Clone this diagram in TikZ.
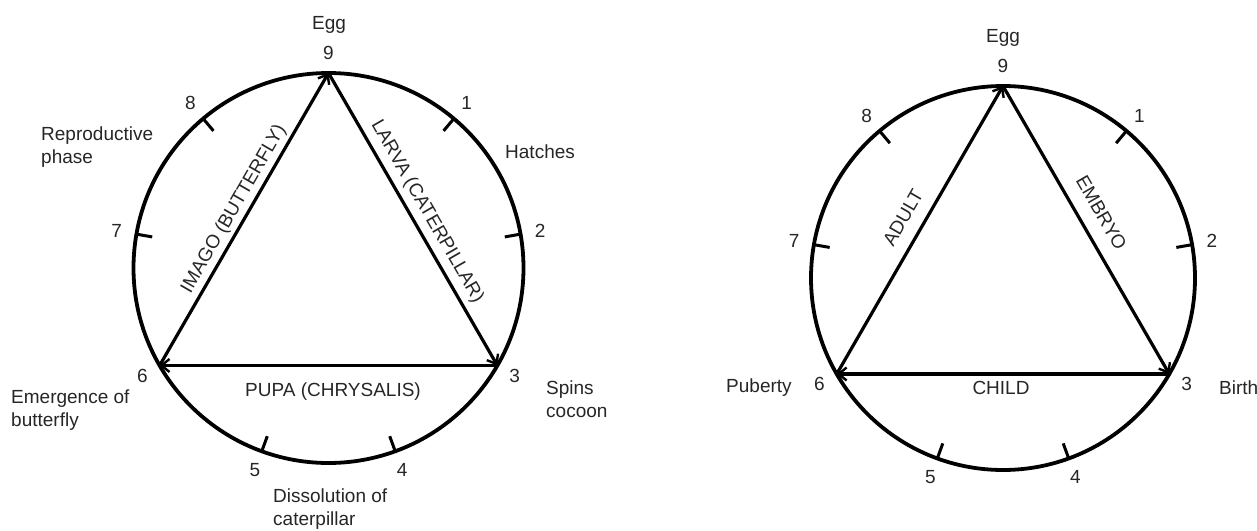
\documentclass[tikz,border=0pt]{standalone}
\usepackage{fontspec}
\setmainfont{Liberation Sans}
\usetikzlibrary{arrows.meta}
\begin{document}
\begin{tikzpicture}[x=1pt,y=1pt,
  ring/.style={line width=3.8pt},
  edge/.style={line width=3.2pt, -{Straight Barb[length=8pt,width=13pt,line width=2.4pt]}},
  tickmark/.style={line width=3pt},
  lab/.style={inner sep=0pt, font=\fontsize{19}{23}\selectfont, text=black!85},
  txt/.style={lab, anchor=west, align=left},
]
\useasboundingbox (0,0) rectangle (1257,-530);

% ---------- left cycle ----------
\coordinate (L) at (328.5,-268);
\draw[ring] (L) circle[radius=195];
\coordinate (L9) at ([shift={(90:195)}]L);
\coordinate (L3) at ([shift={(-30:195)}]L);
\coordinate (L6) at ([shift={(-150:195)}]L);
\draw[edge] (L9) -- (L3);
\draw[edge] (L3) -- (L6);
\draw[edge] (L6) -- (L9);
\foreach \a in {50,10,-70,-110,170,130}
  \draw[tickmark] ([shift={(\a:195)}]L) -- ([shift={(\a:179)}]L);
\foreach \a/\n in {90/9,50/1,10/2,-30/3,-70/4,-110/5,-150/6,170/7,130/8}
  \node[lab] (Ln\n) at ([shift={(\a:215)}]L) {\n};

\node[lab] (Legg) at (329,-25) {Egg};
\node[txt] (Lhat) at (505,-152) {Hatches};
\node[txt] (Lrep) at (41,-147) {Reproductive\\phase};
\node[txt] (Lspi) at (546,-399) {Spins\\cocoon};
\node[txt] (Leme) at (11,-410) {Emergence of\\butterfly};
\node[txt] (Ldis) at (273,-509) {Dissolution of\\caterpillar};

\node[lab, rotate=60] (Limago) at (234,-209) {IMAGO (BUTTERFLY)};
\node[lab, rotate=-60] (Llarva) at (427,-212) {LARVA (CATERPILLAR)};
\node[lab] (Lpupa) at (333,-392) {PUPA (CHRYSALIS)};

% ---------- right cycle ----------
\coordinate (R) at (1003,-278);
\draw[ring] (R) circle[radius=192];
\coordinate (R9) at ([shift={(90:192)}]R);
\coordinate (R3) at ([shift={(-30:192)}]R);
\coordinate (R6) at ([shift={(-150:192)}]R);
\draw[edge] (R9) -- (R3);
\draw[edge] (R3) -- (R6);
\draw[edge] (R6) -- (R9);
\foreach \a in {50,10,-70,-110,170,130}
  \draw[tickmark] ([shift={(\a:192)}]R) -- ([shift={(\a:176)}]R);
\foreach \a/\n in {90/9,50/1,10/2,-30/3,-70/4,-110/5,-150/6,170/7,130/8}
  \node[lab] (Rn\n) at ([shift={(\a:212)}]R) {\n};

\node[lab] (Regg) at (1003,-38) {Egg};
\node[txt] (Rpub) at (726,-388) {Puberty};
\node[txt] (Rbir) at (1219,-388) {Birth};

\node[lab, rotate=60] (Radult) at (903,-218) {ADULT};
\node[lab, rotate=-60] (Rembryo) at (1101.5,-213) {EMBRYO};
\node[lab] (Rchild) at (1001,-388) {CHILD};
\end{tikzpicture}
\end{document}
